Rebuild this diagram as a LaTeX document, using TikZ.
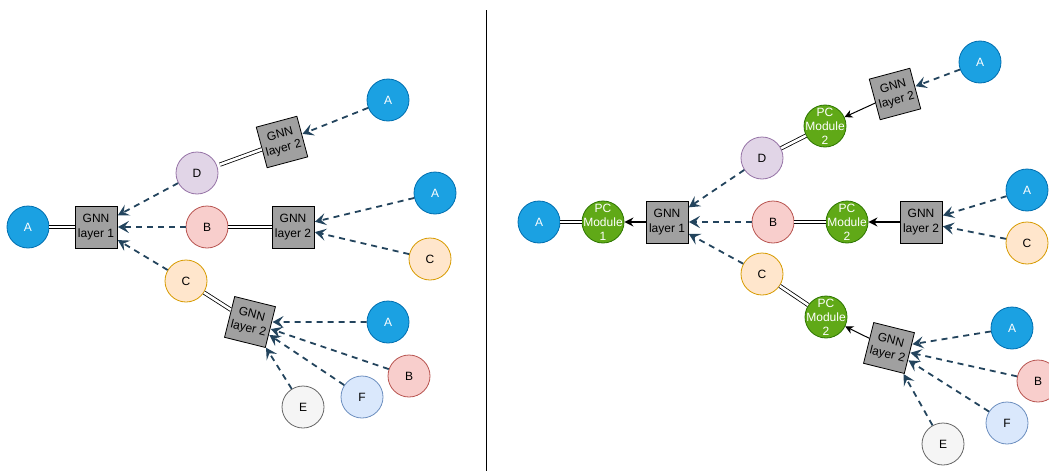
\documentclass[tikz,border=0pt]{standalone}
\usepackage{fontspec}
\setmainfont{Liberation Sans}
\usetikzlibrary{arrows.meta}
\definecolor{nblueF}{HTML}{1BA1E2}\definecolor{nblueS}{HTML}{006EAF}
\definecolor{npurF}{HTML}{E1D5E7}\definecolor{npurS}{HTML}{9673A6}
\definecolor{nredF}{HTML}{F8CECC}\definecolor{nredS}{HTML}{B85450}
\definecolor{norgF}{HTML}{FFE6CC}\definecolor{norgS}{HTML}{D79B00}
\definecolor{nlbF}{HTML}{DAE8FC}\definecolor{nlbS}{HTML}{6C8EBF}
\definecolor{ngrF}{HTML}{F5F5F5}\definecolor{ngrS}{HTML}{666666}
\definecolor{ngreenF}{HTML}{60A917}\definecolor{ngreenS}{HTML}{2D7600}
\definecolor{boxF}{HTML}{A0A0A0}
\definecolor{dashC}{HTML}{23445D}
\tikzset{
  every node/.style={font=\fontsize{12}{14.4}\selectfont},
  circ/.style={circle, minimum size=42pt, inner sep=0pt, line width=0.8pt, align=center},
  nA/.style={circ, fill=nblueF, draw=nblueS, text=white},
  nB/.style={circ, fill=nredF, draw=nredS},
  nC/.style={circ, fill=norgF, draw=norgS},
  nD/.style={circ, fill=npurF, draw=npurS},
  nE/.style={circ, fill=ngrF, draw=ngrS},
  nF/.style={circ, fill=nlbF, draw=nlbS},
  pcm/.style={circ, fill=ngreenF, draw=ngreenS, text=white, inner sep=-10pt, font=\fontsize{12}{14}\selectfont},
  gnn/.style={draw=black, fill=boxF, minimum width=42pt, minimum height=42pt, inner sep=0pt, align=center, line width=0.8pt},
  dasharr/.style={draw=dashC, line width=1.8pt, dash pattern=on 6pt off 5pt, -{Stealth[length=11pt,width=12pt,inset=4.5pt]}, shorten >=0.5pt},
  linkline/.style={double=white, draw=black, line width=0.8pt, double distance=2.6pt},
  solidarr/.style={draw=black, line width=1pt, -{Stealth[length=8pt,width=8pt,inset=2.5pt]}},
  thickarr/.style={draw=black, line width=1.8pt, -{Stealth[length=9pt,width=9pt,inset=3pt]}},
}
\begin{document}
\begin{tikzpicture}[x=1pt,y=-1pt]
\useasboundingbox (0,0) rectangle (1049,471);
\clip (0,0) rectangle (1049,471);
% divider
\draw[line width=1pt] (486,10) coordinate (dtop) -- (486,471) coordinate (dbot);

% ---------- left panel ----------
\node[nA] (LA) at (28,227) {A};
\node[gnn] (LG1) at (96,227) {GNN\\layer 1};
\node[nD] (LD) at (197,173) {D};
\node[nB] (LB) at (207,227) {B};
\node[nC] (LC) at (186,281) {C};
\node[gnn, rotate=15] (LG2a) at (282,142) {GNN\\layer 2};
\node[gnn] (LG2b) at (293,227) {GNN\\layer 2};
\node[gnn, rotate=-14] (LG2c) at (250,322) {GNN\\layer 2};
\node[nA] (LA1) at (388,100) {A};
\node[nA] (LA2) at (435,193) {A};
\node[nC] (LC2) at (430,259) {C};
\node[nA] (LA3) at (388,322) {A};
\node[nB] (LB3) at (409,376) {B};
\node[nF] (LF3) at (362,397) {F};
\node[nE] (LE3) at (303,407) {E};

\draw[linkline] (LA) -- (LG1);
\draw[linkline, shorten <=3pt] (LD) -- (LG2a);
\draw[linkline] (LB) -- (LG2b);
\draw[linkline] (LC) -- (LG2c);
\draw[dasharr] (LD) -- (LG1);
\draw[dasharr] (LB) -- (LG1);
\draw[dasharr] (LC) -- (LG1);
\draw[dasharr] (LA1) -- (LG2a);
\draw[dasharr] (LA2) -- (LG2b);
\draw[dasharr] (LC2) -- (LG2b);
\draw[dasharr] (LA3) -- (LG2c);
\draw[dasharr] (LB3) -- (LG2c);
\draw[dasharr] (LF3) -- (LG2c);
\draw[dasharr] (LE3) -- (LG2c);

% ---------- right panel ----------
\node[nA] (RA) at (539,222) {A};
\node[pcm] (RP1) at (603,222) {PC\\Module\\1};
\node[gnn] (RG1) at (667,222) {GNN\\layer 1};
\node[nD] (RD) at (762,158) {D};
\node[nB] (RB) at (773,222) {B};
\node[nC] (RC) at (762,274) {C};
\node[pcm] (RP2a) at (825,126) {PC\\Module\\2};
\node[pcm] (RP2b) at (847,222) {PC\\Module\\2};
\node[pcm] (RP2c) at (826,317) {PC\\Module\\2};
\node[gnn, rotate=15] (RG2a) at (895,94) {GNN\\layer 2};
\node[gnn] (RG2b) at (921,222) {GNN\\layer 2};
\node[gnn, rotate=-14] (RG2c) at (889,348) {GNN\\layer 2};
\node[nA] (RA1) at (980,62) {A};
\node[nA] (RA2) at (1027,190) {A};
\node[nC] (RC2) at (1027,243) {C};
\node[nA] (RA3) at (1012,328) {A};
\node[nB] (RB3) at (1038,381) {B};
\node[nF] (RF3) at (1007,423) {F};
\node[nE] (RE3) at (943,444) {E};

\draw[linkline] (RA) -- (RP1);
\draw[linkline] (RD) -- (RP2a);
\draw[linkline] (RB) -- (RP2b);
\draw[linkline] (RC) -- (RP2c);
\draw[thickarr] (RG1) -- (RP1);
\draw[thickarr] (RG2b) -- (RP2b);
\draw[solidarr] (RG2a) -- (RP2a);
\draw[solidarr] (RG2c) -- (RP2c);
\draw[dasharr] (RD) -- (RG1);
\draw[dasharr] (RB) -- (RG1);
\draw[dasharr] (RC) -- (RG1);
\draw[dasharr] (RA1) -- (RG2a);
\draw[dasharr] (RA2) -- (RG2b);
\draw[dasharr] (RC2) -- (RG2b);
\draw[dasharr] (RA3) -- (RG2c);
\draw[dasharr] (RB3) -- (RG2c);
\draw[dasharr] (RF3) -- (RG2c);
\draw[dasharr] (RE3) -- (RG2c);
\end{tikzpicture}
\end{document}
